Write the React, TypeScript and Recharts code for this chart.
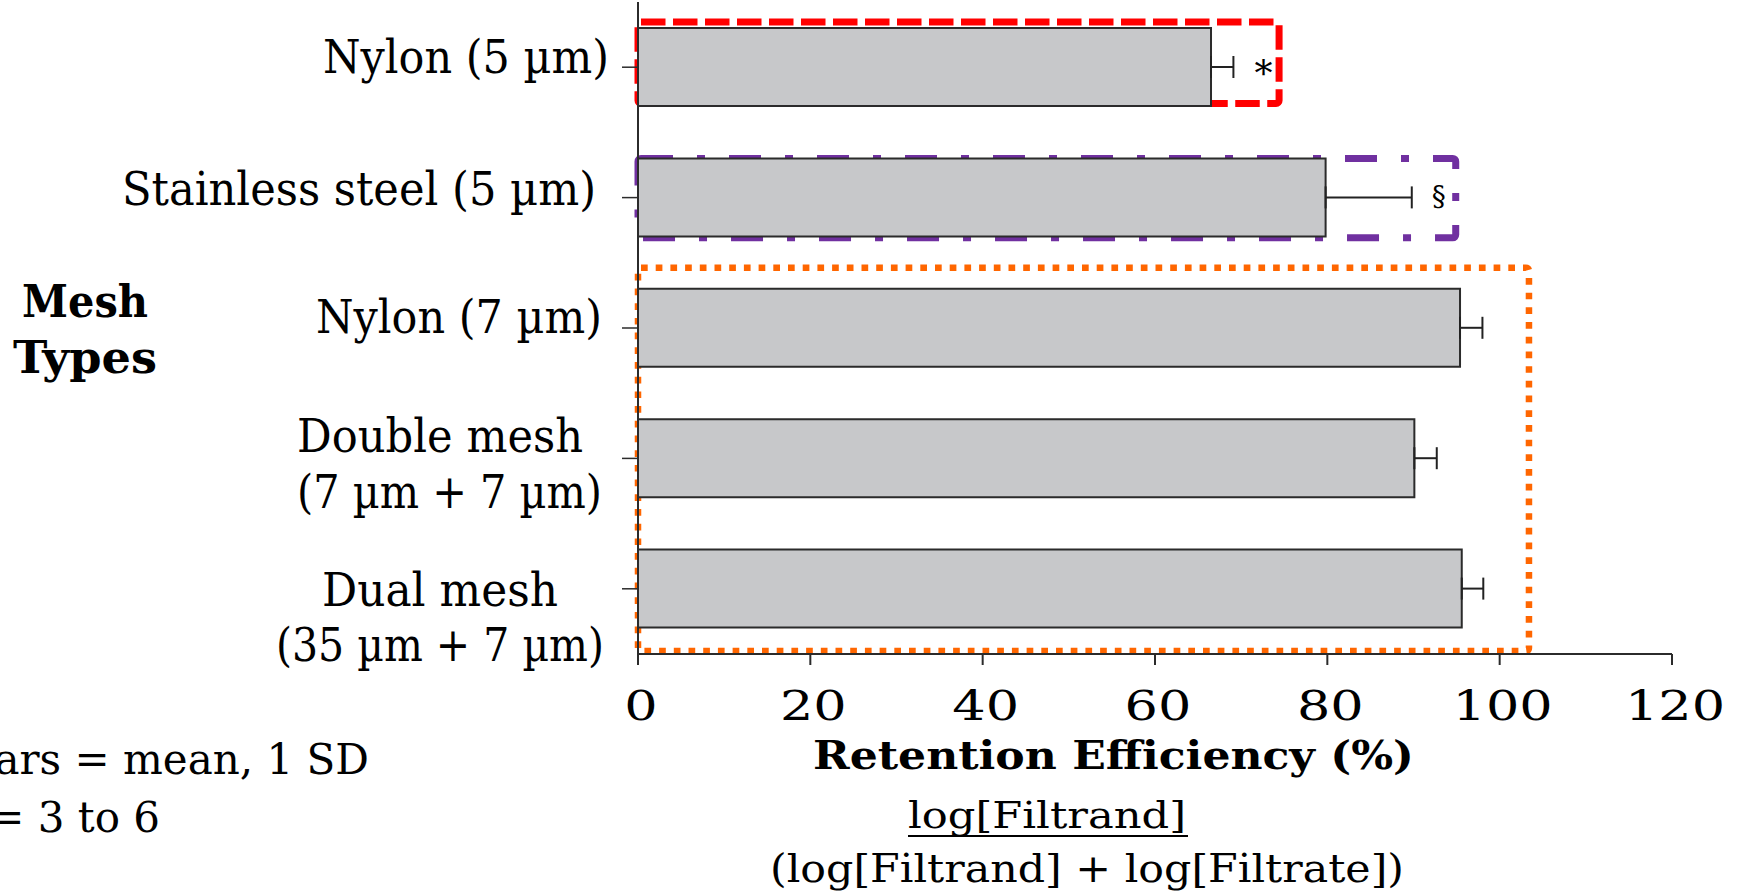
import React from 'react';
import { BarChart, Bar, XAxis, YAxis, ErrorBar, LabelList, ReferenceArea } from 'recharts';

// ---------- data ----------
const categories = [
  'Nylon (5 µm)',
  'Stainless steel (5 µm)',
  'Nylon (7 µm)',
  'Double mesh (7 µm + 7 µm)',
  'Dual mesh (35 µm + 7 µm)',
];
const categoryLines = [
  ['Nylon (5 µm)'],
  ['Stainless steel (5 µm)'],
  ['Nylon (7 µm)'],
  ['Double mesh', '(7 µm + 7 µm)'],
  ['Dual mesh', '(35 µm + 7 µm)'],
];
const meanValues = [66.5, 79.8, 95.4, 90.1, 95.6];
const sdValues = [2.6, 10.0, 2.6, 2.6, 2.5];
const significance = ['*', '§', '', '', ''];
const xTicks = [0, 20, 40, 60, 80, 100, 120];

// annotation boxes (data units)
const redBoxEnd = 74.4;
const purpleBoxEnd = 94.9;
const orangeBoxEnd = 103.4;

const data = categories.map((name, i) => ({
  name,
  mean: meanValues[i],
  err: [0, sdValues[i]],
  sig: significance[i],
}));

// ---------- styling / layout ----------
const FONT = '"DejaVu Serif", "Liberation Serif", serif';
const W = 1737;
const H = 896;

const LABEL_LAYOUT = [
  [{ cx: 466, w: 286, dy: 6 }],
  [{ cx: 359, w: 474, dy: 7 }],
  [{ cx: 459, w: 286, dy: 5 }],
  [{ cx: 440, w: 286, dy: -6 }, { cx: 449.5, w: 305, dy: 50 }],
  [{ cx: 440, w: 236, dy: 17 }, { cx: 440, w: 328, dy: 72 }],
];

const YTick = (props: any) => {
  const { y, index } = props;
  const lines = categoryLines[index] || [];
  const lay = LABEL_LAYOUT[index] || [];
  return (
    <g>
      {lines.map((ln, k) => (
        <text
          key={k}
          x={lay[k].cx}
          y={y + lay[k].dy}
          textAnchor="middle"
          fontFamily={FONT}
          fontSize={46}
          fill="#000"
          textLength={lay[k].w}
          lengthAdjust="spacingAndGlyphs"
        >
          {ln}
        </text>
      ))}
    </g>
  );
};

const XTick = (props: any) => {
  const { x, payload } = props;
  return (
    <text
      x={0}
      y={0}
      transform={`translate(${x + 3},720) scale(1.28,1)`}
      textAnchor="middle"
      fontFamily={FONT}
      fontSize={41}
      fill="#000"
    >
      {payload.value}
    </text>
  );
};

const SIG_STYLE: Record<string, { size: number; dy: number; gap: number }> = {
  '*': { size: 36, dy: 19, gap: 30 },
  '§': { size: 28, dy: 9, gap: 27 },
};

const SigLabel = (props: any) => {
  const { x, y, width, height, index, value } = props;
  if (!value) return null;
  const m = meanValues[index];
  const s = sdValues[index];
  const errEnd = x + (width * (m + s)) / m;
  const st = SIG_STYLE[value] || { size: 32, dy: 10, gap: 28 };
  return (
    <text
      x={errEnd + st.gap}
      y={y + height / 2 + st.dy}
      textAnchor="middle"
      fontFamily={FONT}
      fontSize={st.size}
      fill="#000"
    >
      {value}
    </text>
  );
};

const boxShape = (stroke: string, dash: string, sw: number, insetTop: number, insetBottom: number) => (p: any) => (
  <rect
    x={p.x}
    y={p.y + insetTop}
    width={p.width}
    height={Math.max(0, p.height - insetTop - insetBottom)}
    fill="none"
    stroke={stroke}
    strokeWidth={sw}
    strokeDasharray={dash}
    strokeLinejoin="round"
    rx={3}
    ry={3}
  />
);

const XTitle = () => (
  <g fontFamily={FONT} fill="#000">
    <text x={1113.5} y={769} textAnchor="middle" fontSize={40} fontWeight="bold" textLength={601} lengthAdjust="spacingAndGlyphs">
      Retention Efficiency (%)
    </text>
    <text x={1047} y={828} textAnchor="middle" fontSize={38} textLength={278} lengthAdjust="spacingAndGlyphs">
      log[Filtrand]
    </text>
    <line x1={908} x2={1188} y1={836} y2={836} stroke="#000" strokeWidth={2} />
    <text x={1087} y={882} textAnchor="middle" fontSize={39} textLength={634} lengthAdjust="spacingAndGlyphs">
      (log[Filtrand] + log[Filtrate])
    </text>
  </g>
);

const YTitle = () => (
  <g fontFamily={FONT} fill="#000" fontWeight="bold">
    <text x={85} y={317} textAnchor="middle" fontSize={44} textLength={126} lengthAdjust="spacingAndGlyphs">
      Mesh
    </text>
    <text x={85} y={373} textAnchor="middle" fontSize={44} textLength={144} lengthAdjust="spacingAndGlyphs">
      Types
    </text>
  </g>
);

export default function App() {
  return (
    <div style={{ position: 'absolute', left: 0, top: 0, width: W, height: H, background: '#fff' }}>
      <BarChart
        width={W}
        height={H}
        data={data}
        layout="vertical"
        margin={{ top: 2, right: 65, bottom: 0, left: 0 }}
      >
        <XAxis
          type="number"
          domain={[0, 120]}
          ticks={xTicks}
          interval={0}
          height={242}
          tickSize={11}
          axisLine={{ stroke: '#2b2b2b', strokeWidth: 2 }}
          tickLine={{ stroke: '#2b2b2b', strokeWidth: 2 }}
          tick={<XTick />}
          label={{ content: () => <XTitle /> }}
        />
        <YAxis
          type="category"
          dataKey="name"
          width={638}
          interval={0}
          tickSize={16}
          axisLine={{ stroke: '#2b2b2b', strokeWidth: 2 }}
          tickLine={{ stroke: '#2b2b2b', strokeWidth: 1.5 }}
          tick={<YTick />}
          label={{ content: () => <YTitle /> }}
        />
        <Bar dataKey="mean" fill="#C7C8CA" stroke="#2b2b2b" strokeWidth={2} barSize={78} isAnimationActive={false}>
          <ErrorBar dataKey="err" width={11} stroke="#222" strokeWidth={2} direction="x" isAnimationActive={false} />
          <LabelList dataKey="sig" content={<SigLabel />} />
        </Bar>
        <ReferenceArea
          x1={0}
          x2={redBoxEnd}
          y1={categories[0]}
          y2={categories[0]}
          shape={boxShape('#FF0000', '24.5 7.5', 7, 20, 29)}
        />
        <ReferenceArea
          x1={0}
          x2={purpleBoxEnd}
          y1={categories[1]}
          y2={categories[1]}
          shape={boxShape('#7030A0', '32 24 8 24', 7, 26, 25)}
        />
        <ReferenceArea
          x1={0}
          x2={orangeBoxEnd}
          y1={categories[2]}
          y2={categories[4]}
          shape={boxShape('#FF6600', '6.7 8', 6.5, 5, 3)}
        />
      </BarChart>
      <svg width={W} height={H} style={{ position: 'absolute', left: 0, top: 0, pointerEvents: 'none' }}>
        <g fontFamily={FONT} fill="#000" fontSize={42}>
          <text x={369} y={774} textAnchor="end">Error bars = mean, 1 SD</text>
          <text x={160} y={832} textAnchor="end">n = 3 to 6</text>
        </g>
      </svg>
    </div>
  );
}
